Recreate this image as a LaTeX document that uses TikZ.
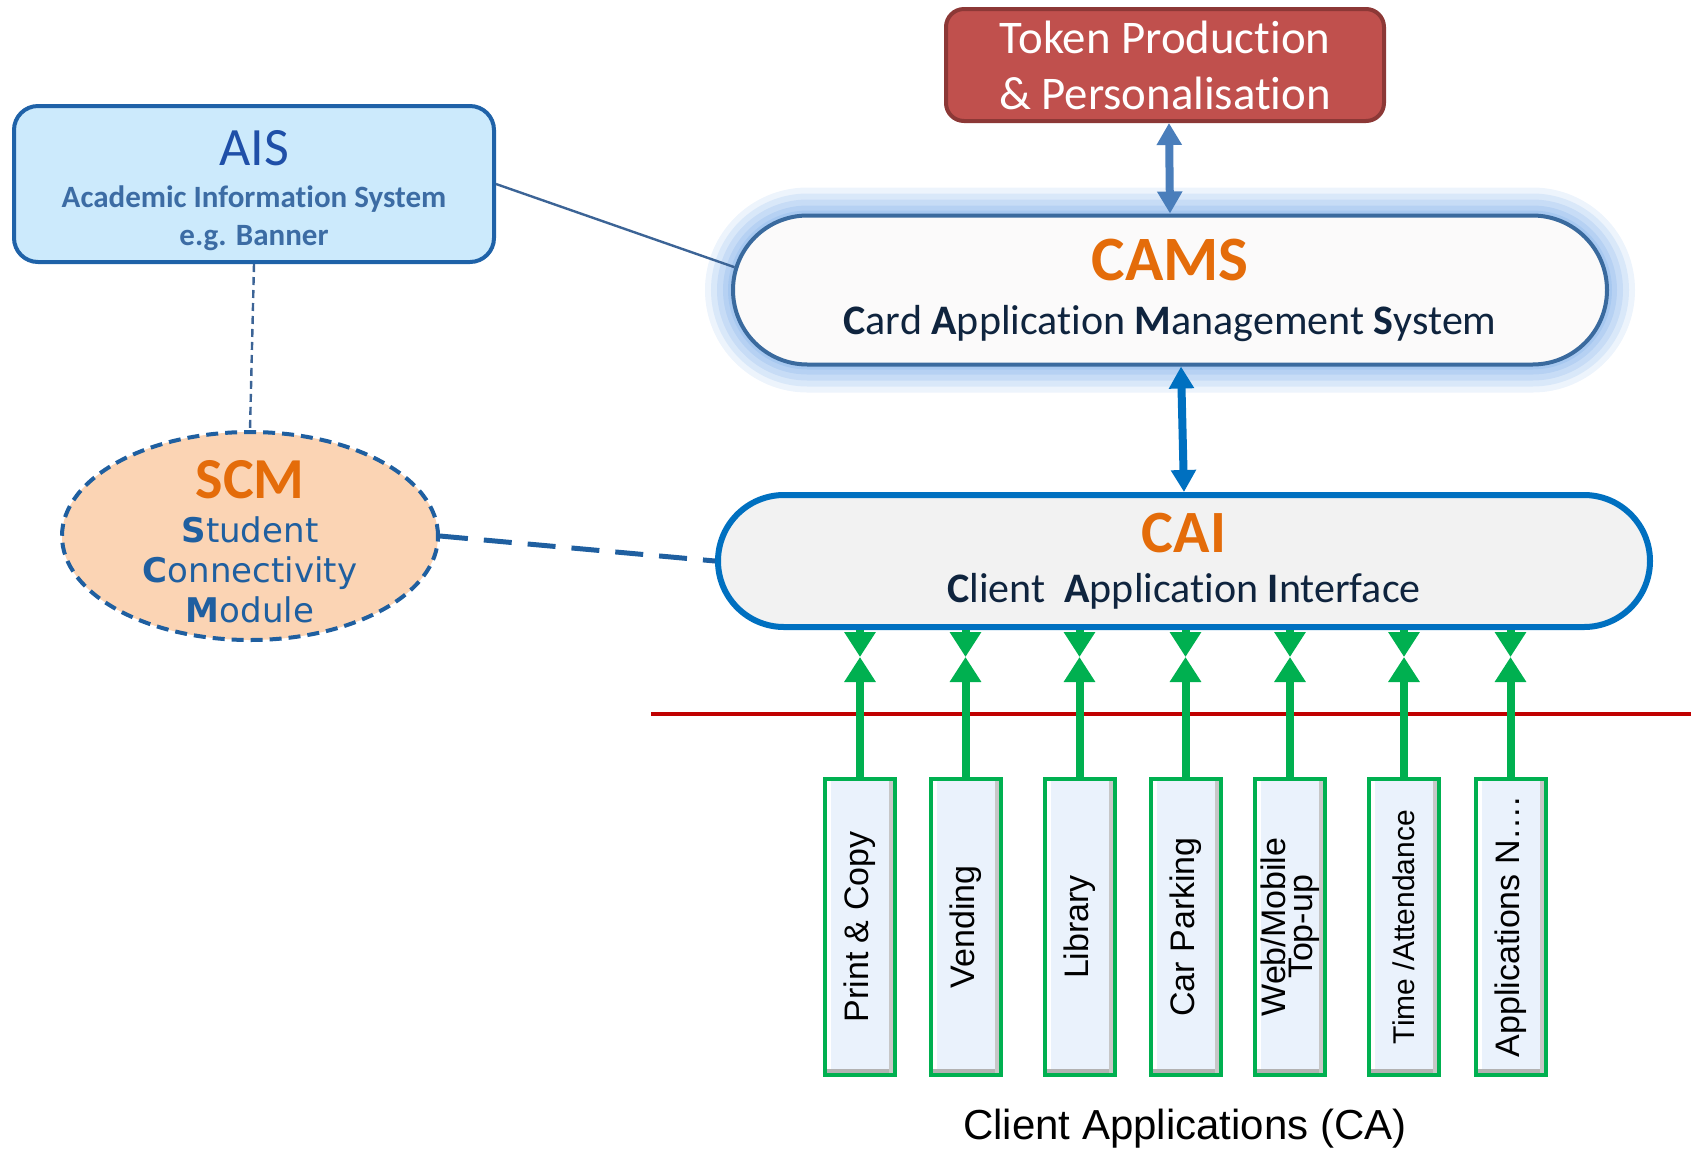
\documentclass[tikz,border=0pt]{standalone}
\usepackage{fontspec}
\setmainfont{Carlito}[Ligatures=NoCommon]
\newfontfamily\arialfont{Liberation Sans}
\newfontfamily\verdfont{DejaVu Sans}
\usetikzlibrary{arrows.meta,shapes.geometric,shapes.misc,calc}

\definecolor{tokenred}{HTML}{C0504D}
\definecolor{tokenedge}{HTML}{8C3836}
\definecolor{aisfill}{HTML}{CCEAFC}
\definecolor{aisedge}{HTML}{1F62A8}
\definecolor{aistext}{HTML}{1F4FA8}
\definecolor{aissub}{HTML}{3C6CA4}
\definecolor{camsfill}{HTML}{FBFAFA}
\definecolor{camsedge}{HTML}{3A6A9E}
\definecolor{camsglow}{HTML}{8DB8EC}
\definecolor{camsorange}{HTML}{E46C0A}
\definecolor{navy}{HTML}{0F243E}
\definecolor{caifill}{HTML}{F2F2F2}
\definecolor{caiblue}{HTML}{0070C0}
\definecolor{scmfill}{HTML}{FBD4B4}
\definecolor{scmblue}{HTML}{1F5FA0}
\definecolor{capgreen}{HTML}{00B050}
\definecolor{capfill}{HTML}{EAF2FC}
\definecolor{linkblue}{HTML}{3C6496}
\definecolor{tokenarrow}{HTML}{4A7EBB}
\definecolor{borderred}{HTML}{C00000}

\def\fs#1#2{\fontsize{#1}{#2}\selectfont}

\tikzset{
	capbox/.style={draw=capgreen, line width=2pt, fill=capfill, minimum width=35pt, minimum height=148pt, inner sep=0pt,
		path picture={
			\fill[black!30] (path picture bounding box.south west) rectangle ([yshift=3pt]path picture bounding box.south east);
			\fill[black!22] ([xshift=-3pt]path picture bounding box.south east) rectangle (path picture bounding box.north east);
			\fill[white] (path picture bounding box.north west) rectangle ([xshift=3pt,yshift=3pt]path picture bounding box.south west);
		}},
	caplabel/.style={rotate=90, align=center, inner sep=0pt},
	greenlink/.style={draw=capgreen, line width=4pt, -{Triangle[width=15pt,length=12.5pt]}},
	bluelink/.style={line width=4pt, {Triangle[width=12pt,length=11pt]}-{Triangle[width=12pt,length=11pt]}},
	stadium/.style={rounded rectangle, inner sep=0pt, align=center},
}

\begin{document}
\begin{tikzpicture}[x=0.5pt, y=-0.5pt]
			%%%%% START %%%%%
			\useasboundingbox (0,0) rectangle (1694,1148);
			
			% glow round CAMS
			\foreach \w/\o in {28/0.16, 22/0.2, 16/0.24, 10/0.3, 5/0.35}
				\node[stadium, minimum width=437pt, minimum height=74.5pt, draw=camsglow, draw opacity=\o, line width=\w pt] (glow\w) at (1170, 290) {};
			
			\node[rectangle, rounded corners=9pt, draw=tokenedge, line width=2pt, fill=tokenred, minimum width=219pt, minimum height=56pt, align=center, text=white, font=\fs{23.4}{28}] (token) at (1165, 65) {Token Production\\\& Personalisation};
			
			\node[rectangle, rounded corners=12pt, draw=aisedge, line width=2pt, fill=aisfill, minimum width=240pt, minimum height=78pt, align=center, font=\fs{15.5}{19}] (ais) at (254, 184) {{\fs{27}{30}\color{aistext}\rule{0pt}{24.5pt}AIS}\\[2pt]\textcolor{aissub}{\bfseries Academic Information System}\\\textcolor{aissub}{\bfseries e.g. Banner}};
			
			\node[stadium, minimum width=437pt, minimum height=74.5pt, draw=camsedge, line width=2pt, fill=camsfill, font=\fs{21}{26}] (cams) at (1170, 290) {{\fs{31.6}{34}\bfseries\color{camsorange}CAMS}\\[1pt]\textcolor{navy}{\textbf{C}ard \textbf{A}pplication \textbf{M}anagement \textbf{S}ystem}};
			
			\node[stadium, minimum width=466pt, minimum height=66pt, draw=caiblue, line width=3pt, fill=caifill, font=\fs{21}{26}] (cai) at (1184, 561) {{\fs{30}{32}\bfseries\color{camsorange}CAI}\\[-1pt]\textcolor{navy}{\textbf{C}lient\ \ \textbf{A}pplication \textbf{I}nterface}};
			
			\node[ellipse, minimum width=188pt, minimum height=104pt, draw=scmblue, line width=2pt, dash pattern=on 6pt off 3.5pt, fill=scmfill, align=center, inner xsep=0pt, inner ysep=-14pt, font=\verdfont\fs{17}{20}] (scm) at (250, 536) {{\rmfamily\fs{29}{30}\bfseries\color{camsorange}\rule{0pt}{24.7pt}SCM}\\[2pt]\textcolor{scmblue}{\textbf{S}tudent}\\\textcolor{scmblue}{\textbf{C}onnectivity}\\\textcolor{scmblue}{\textbf{M}odule}};
			
			\draw[color=linkblue, line width=1.2pt] (ais.east) -- (cams.177);
			\draw[color=linkblue, line width=1.2pt, dash pattern=on 4pt off 2.5pt] (ais.south) -- (scm.north);
			\draw[color=scmblue, line width=2.5pt, dash pattern=on 14pt off 8pt] (scm.east) -- (cai.west);
			
			\draw[bluelink, color=tokenarrow] ([xshift=2pt]token.south) -- (cams.north);
			\draw[bluelink, color=caiblue] ([xshift=5.5pt]cams.south) -- (cai.north);
			
			\draw[color=borderred, line width=2pt] (651, 714) -- (1691, 714);
			
			% client applications
			\coordinate (mid) at (0, 657);
			\foreach \x/\txt/\fz [count=\i] in {860/{Print \& Copy}/17, 965.5/{Vending}/17, 1079.5/{Library}/17, 1185.5/{Car Parking}/17, 1290/{Web/Mobile\\Top-up}/17, 1404/{Time /Attendance}/15, 1510.5/{Applications N….}/17} {
				\node[capbox] (b\i) at (\x, 927) {};
				\node[caplabel, font=\arialfont\fs{\fz}{13.5}] (l\i) at (b\i.center) {\txt};
				\draw[greenlink] (b\i.north) -- (b\i |- mid);
				\draw[greenlink] (b\i |- cai.south) -- (b\i |- mid);
			}
			
			\node[font=\arialfont\fs{21}{24}] (ca) at (1185, 1129) {Client Applications (CA)};
			%%%%% END %%%%%
\end{tikzpicture}
\end{document}
